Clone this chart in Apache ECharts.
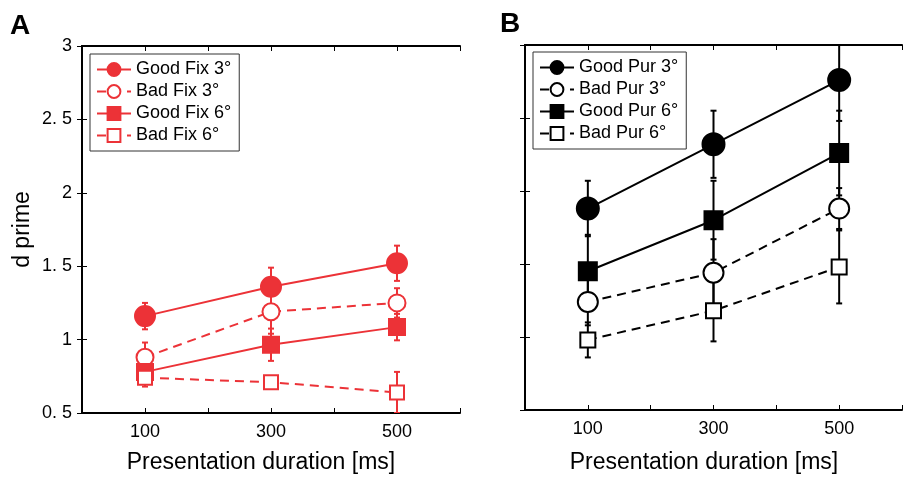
<!DOCTYPE html>
<html>
<head>
<meta charset="utf-8">
<script src="https://cdn.jsdelivr.net/npm/echarts@6/dist/echarts.min.js"></script>
<style>
  html, body { margin: 0; padding: 0; background: #fff; }
  #chart { width: 905px; height: 477px; }
</style>
</head>
<body>
<div id="chart"></div>
<script>
// presentation durations (ms) and tick labels
var durations = [100, 300, 500];
var xTickLabels = ['100', '300', '500'];
var yTickValues = [0.5, 1, 1.5, 2, 2.5, 3];
var yTickLabels = ['0. 5', '1', '1. 5', '2', '2. 5', '3'];

// panel A: fixation (d prime, error half-width)
var goodFix3 = [1.16, 1.36, 1.52];
var goodFix3Err = [0.09, 0.13, 0.12];
var badFix3 = [0.88, 1.19, 1.25];
var badFix3Err = [0.10, 0.15, 0.10];
var goodFix6 = [0.78, 0.965, 1.085];
var goodFix6Err = [0.07, 0.11, 0.09];
var badFix6 = [0.74, 0.71, 0.64];
var badFix6Err = [0.06, 0.03, 0.14];

// panel B: pursuit
var goodPur3 = [1.88, 2.32, 2.76];
var goodPur3Err = [0.19, 0.23, 0.28];
var badPur3 = [1.24, 1.44, 1.88];
var badPur3Err = [0.16, 0.23, 0.14];
var goodPur6 = [1.45, 1.80, 2.26];
var goodPur6Err = [0.25, 0.27, 0.29];
var badPur6 = [0.98, 1.18, 1.48];
var badPur6Err = [0.12, 0.21, 0.25];

var RED = '#ec3237';
var BLACK = '#000';
var FONT = 'Liberation Sans';

function pairs(vals) {
    return durations.map(function (d, i) { return [d, vals[i]]; });
}

function errRows(vals, errs) {
    return durations.map(function (d, i) { return [d, vals[i] - errs[i], vals[i] + errs[i]]; });
}

function renderErr(params, api) {
    var lo = api.coord([api.value(0), api.value(1)]);
    var hi = api.coord([api.value(0), api.value(2)]);
    var w = 3;
    var st = { stroke: api.visual('color'), lineWidth: 2 };
    return {
        type: 'group',
        children: [
            { type: 'line', shape: { x1: lo[0], y1: lo[1], x2: hi[0], y2: hi[1] }, style: st },
            { type: 'line', shape: { x1: lo[0] - w, y1: lo[1], x2: lo[0] + w, y2: lo[1] }, style: st },
            { type: 'line', shape: { x1: hi[0] - w, y1: hi[1], x2: hi[0] + w, y2: hi[1] }, style: st }
        ]
    };
}

function lineSeries(name, vals, idx, color, symbol, size, dashed) {
    return {
        name: name,
        type: 'line',
        xAxisIndex: idx * 2,
        yAxisIndex: idx * 2,
        data: pairs(vals),
        symbol: symbol,
        symbolSize: size,
        showAllSymbol: true,
        z: 3,
        lineStyle: { color: color, width: 2, type: dashed ? [9, 6] : 'solid' },
        itemStyle: { color: color, borderColor: color, borderWidth: 2 }
    };
}

function errSeries(name, vals, errs, idx, color) {
    return {
        name: name,
        type: 'custom',
        xAxisIndex: idx * 2,
        yAxisIndex: idx * 2,
        data: errRows(vals, errs),
        encode: { x: 0, y: [1, 2] },
        renderItem: renderErr,
        clip: true,
        z: 2,
        itemStyle: { color: color },
        silent: true
    };
}

function xAxes(gi) {
    var base = {
        type: 'value', gridIndex: gi, min: 0, max: 600, interval: 100,
        axisLine: { lineStyle: { color: BLACK, width: 2 } },
        axisTick: { inside: true, length: 5, lineStyle: { color: BLACK, width: 1 } },
        splitLine: { show: false }
    };
    var bottom = Object.assign({}, base, {
        position: 'bottom',
        axisLabel: {
            color: BLACK, fontFamily: FONT, fontSize: 18, margin: 10,
            formatter: function (v) {
                var i = durations.indexOf(v);
                return i >= 0 ? xTickLabels[i] : '';
            }
        }
    });
    var top = Object.assign({}, base, { position: 'top', axisLabel: { show: false } });
    return [bottom, top];
}

function yAxes(gi, showLabels) {
    var base = {
        type: 'value', gridIndex: gi, min: 0.5, max: 3, interval: 0.5,
        axisLine: { show: true, lineStyle: { color: BLACK, width: 2 } },
        axisTick: { show: true, inside: true, length: 5, lineStyle: { color: BLACK, width: 1 } },
        splitLine: { show: false }
    };
    var left = Object.assign({}, base, {
        position: 'left',
        axisLabel: {
            show: showLabels, color: BLACK, fontFamily: FONT, fontSize: 18, margin: 10,
            formatter: function (v) {
                var i = yTickValues.indexOf(v);
                return i >= 0 ? yTickLabels[i] : '';
            }
        }
    });
    if (showLabels) {
        left.name = 'd prime';
        left.nameLocation = 'middle';
        left.nameGap = 48;
        left.nameTextStyle = { color: BLACK, fontFamily: FONT, fontSize: 23 };
    }
    var right = Object.assign({}, base, { position: 'right', axisLabel: { show: false } });
    return [left, right];
}

function legend(left, top, names) {
    return {
        orient: 'vertical',
        left: left, top: top,
        data: names,
        backgroundColor: '#fff',
        borderColor: '#333',
        borderWidth: 1,
        borderRadius: 0,
        padding: [6, 8, 6, 6],
        itemWidth: 34,
        itemHeight: 16,
        itemGap: 3,
        textStyle: { color: BLACK, fontFamily: FONT, fontSize: 18, lineHeight: 19 }
    };
}

var fixNames = ['Good Fix 3°', 'Bad Fix 3°', 'Good Fix 6°', 'Bad Fix 6°'];
var purNames = ['Good Pur 3°', 'Bad Pur 3°', 'Good Pur 6°', 'Bad Pur 6°'];

// line series first so the legend takes its icons from them
var series = [
    lineSeries(fixNames[0], goodFix3, 0, RED, 'circle', 20, false),
    lineSeries(fixNames[1], badFix3, 0, RED, 'emptyCircle', 17, true),
    lineSeries(fixNames[2], goodFix6, 0, RED, 'rect', 16, false),
    lineSeries(fixNames[3], badFix6, 0, RED, 'emptyRect', 14, true),
    lineSeries(purNames[0], goodPur3, 1, BLACK, 'circle', 22, false),
    lineSeries(purNames[1], badPur3, 1, BLACK, 'emptyCircle', 20, true),
    lineSeries(purNames[2], goodPur6, 1, BLACK, 'rect', 18, false),
    lineSeries(purNames[3], badPur6, 1, BLACK, 'emptyRect', 15, true),

    errSeries(fixNames[0], goodFix3, goodFix3Err, 0, RED),
    errSeries(fixNames[1], badFix3, badFix3Err, 0, RED),
    errSeries(fixNames[2], goodFix6, goodFix6Err, 0, RED),
    errSeries(fixNames[3], badFix6, badFix6Err, 0, RED),
    errSeries(purNames[0], goodPur3, goodPur3Err, 1, BLACK),
    errSeries(purNames[1], badPur3, badPur3Err, 1, BLACK),
    errSeries(purNames[2], goodPur6, goodPur6Err, 1, BLACK),
    errSeries(purNames[3], badPur6, badPur6Err, 1, BLACK)
];

var option = {
    animation: false,
    backgroundColor: '#fff',
    grid: [
        { left: 82, top: 46, width: 378, height: 367 },
        { left: 525, top: 45, width: 390, height: 365 }
    ],
    xAxis: xAxes(0).concat(xAxes(1)),
    yAxis: yAxes(0, true).concat(yAxes(1, false)),
    legend: [
        legend(90, 54, fixNames),
        legend(533, 52, purNames)
    ],
    graphic: [
        { type: 'text', left: 10, top: 12, style: { text: 'A', font: 'bold 28px ' + FONT, fill: BLACK } },
        { type: 'text', left: 500, top: 10, style: { text: 'B', font: 'bold 28px ' + FONT, fill: BLACK } },
        { type: 'text', x: 261, y: 463, style: { text: 'Presentation duration [ms]', font: '23px ' + FONT, fill: BLACK, textAlign: 'center', textVerticalAlign: 'middle' } },
        { type: 'text', x: 704, y: 463, style: { text: 'Presentation duration [ms]', font: '23px ' + FONT, fill: BLACK, textAlign: 'center', textVerticalAlign: 'middle' } }
    ],
    series: series
};

var myChart = echarts.init(document.getElementById('chart'));
myChart.setOption(option);
</script>
</body>
</html>
